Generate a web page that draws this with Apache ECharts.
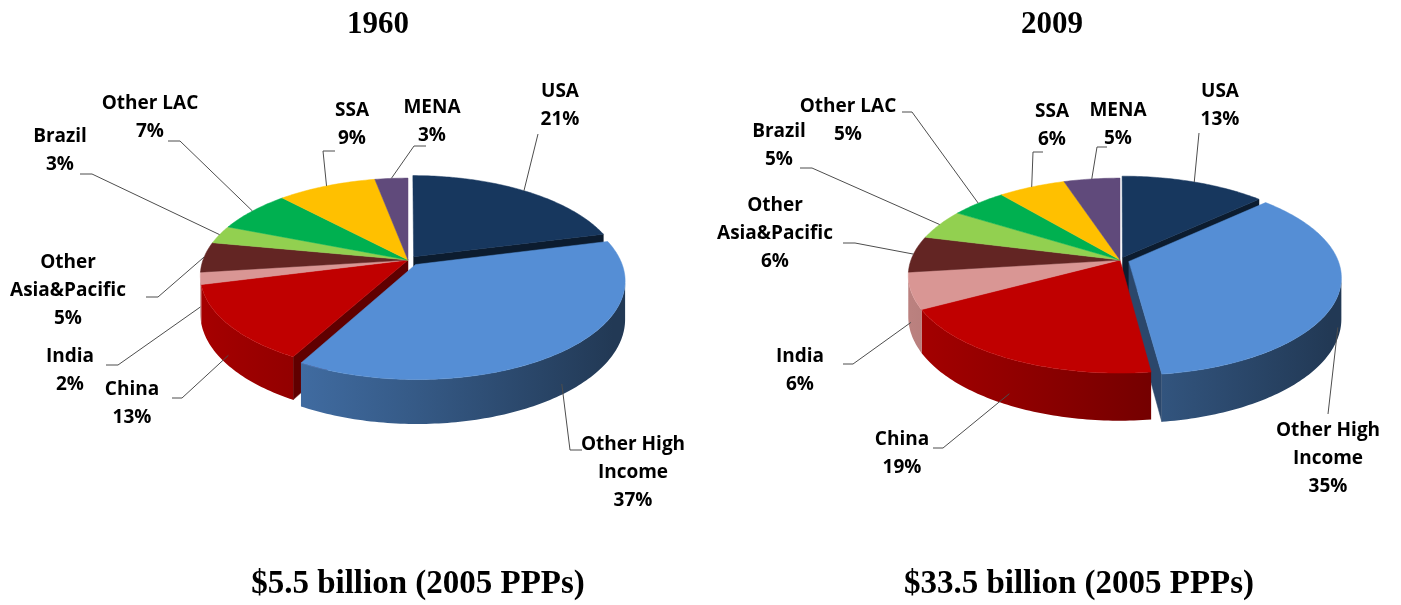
<!DOCTYPE html>
<html>
<head>
<meta charset="utf-8">
<title>Shares of world output, 1960 and 2009</title>
<script src="https://cdn.jsdelivr.net/npm/echarts@6/dist/echarts.min.js"></script>
<style>
  html, body { margin: 0; padding: 0; background: #fff; }
  #main { width: 1401px; height: 605px; }
</style>
</head>
<body>
<div id="main"></div>
<script type="text/javascript">
// slices run clockwise from 12 o'clock
var regions = ['USA', 'Other High\nIncome', 'China', 'India', 'Other\nAsia&Pacific', 'Brazil', 'Other LAC', 'SSA', 'MENA'];
var share1960 = [21, 37, 13, 2, 5, 3, 7, 9, 3];
var share2009 = [13, 35, 19, 6, 6, 5, 5, 6, 5];
var sliceColors = ['#17375E', '#558ED5', '#C00000', '#D99694', '#632523', '#92D050', '#00B050', '#FFC000', '#604A7B'];

// how far each slice is pulled out (fraction of radius)
var explode1960 = [0.045, 0.06, 0, 0, 0, 0, 0, 0, 0];
var explode2009 = [0.03, 0.045, 0, 0, 0, 0, 0, 0, 0];

// label placement relative to the pie centre: [textX, textY, leaderX, leaderY, elbow]
var labels1960 = [
    [152, -154, 130, -126, 0],
    [225, 213, 174, 190, -12],
    [-276, 144, -236, 138, 10],
    [-338, 111, -302, 105, 12],
    [-340, 31, -262, 37, 12],
    [-348, -109, -328, -86, 12],
    [-258, -142, -240, -119, 12],
    [-56, -135, -73, -109, -12],
    [24, -138, 18, -114, -12]
];
var labels2009 = [
    [100, -154, 79, -127, 0],
    [208, 199, 208, 154, 0],
    [-218, 194, -187, 188, 10],
    [-320, 111, -277, 104, 10],
    [-345, -26, -277, -17, 12],
    [-341, -114, -320, -92, 12],
    [-272, -139, -218, -148, 10],
    [-68, -134, -77, -108, -10],
    [-2, -135, -13, -113, -10]
];

var pie1960 = { cx: 408, cy: 260, rx: 205, ry: 95, k: 0.16, depth: 37, shares: share1960, explode: explode1960, labels: labels1960 };
var pie2009 = { cx: 1120, cy: 260, rx: 209, ry: 95, k: 0.16, depth: 40, shares: share2009, explode: explode2009, labels: labels2009 };

function shade(hex, f) {
    var n = parseInt(hex.slice(1), 16);
    var r = Math.round(((n >> 16) & 255) * f);
    var g = Math.round(((n >> 8) & 255) * f);
    var b = Math.round((n & 255) * f);
    return 'rgb(' + r + ',' + g + ',' + b + ')';
}

// simple perspective: u right, v towards viewer, h down the side wall (0..1)
function project(pie, u, v, h) {
    var s = 1 / (1 - pie.k * v);
    return [pie.cx + pie.rx * u * s, pie.cy + (pie.ry * v + pie.depth * h) * s];
}

function arcPoints(pie, ou, ov, a0, a1, h) {
    var pts = [];
    var n = Math.max(2, Math.ceil(Math.abs(a1 - a0) / (Math.PI / 180)));
    for (var j = 0; j <= n; j++) {
        var a = a0 + (a1 - a0) * j / n;
        pts.push(project(pie, ou + Math.cos(a), ov + Math.sin(a), h));
    }
    return pts;
}

function makeRenderer(pie) {
    var total = 0, before = [];
    pie.shares.forEach(function (v) { before.push(total); total += v; });
    var silhouette = Math.asin(pie.k);
    var n = pie.shares.length;

    return function (params, api) {
        var i = params.dataIndex;
        var val = api.value(0);
        var a0 = -Math.PI / 2 + 2 * Math.PI * before[i] / total;
        var a1 = a0 + 2 * Math.PI * val / total;
        var mid = (a0 + a1) / 2;
        var e = pie.explode[i];
        var ou = e * Math.cos(mid), ov = e * Math.sin(mid);
        var color = sliceColors[i];
        var children = [];

        // radial side faces, only where a neighbour is pulled apart
        var faces = [];
        if (Math.cos(a0) < 0 && pie.explode[(i + n - 1) % n] !== e) faces.push(a0);
        if (Math.cos(a1) > 0 && pie.explode[(i + 1) % n] !== e) faces.push(a1);
        faces.forEach(function (phi) {
            children.push({
                type: 'polygon',
                z2: 1,
                shape: { points: [
                    project(pie, ou, ov, 0),
                    project(pie, ou + Math.cos(phi), ov + Math.sin(phi), 0),
                    project(pie, ou + Math.cos(phi), ov + Math.sin(phi), 1),
                    project(pie, ou, ov, 1)
                ] },
                style: { fill: shade(color, 0.5), stroke: shade(color, 0.5), lineWidth: 0.5 }
            });
        });

        // outer wall on the front half
        var lo = Math.max(a0, silhouette), hi = Math.min(a1, Math.PI - silhouette);
        if (hi > lo) {
            var top = arcPoints(pie, ou, ov, lo, hi, 0);
            var bottom = arcPoints(pie, ou, ov, hi, lo, 1);
            children.push({
                type: 'polygon',
                z2: 2,
                shape: { points: top.concat(bottom) },
                style: {
                    fill: new echarts.graphic.LinearGradient(pie.cx - pie.rx, 0, pie.cx + pie.rx, 0, [
                        { offset: 0, color: shade(color, 0.86) },
                        { offset: 0.5, color: shade(color, 0.64) },
                        { offset: 1, color: shade(color, 0.4) }
                    ], true)
                }
            });
        }

        // top face
        children.push({
            type: 'polygon',
            z2: 3,
            shape: { points: [project(pie, ou, ov, 0)].concat(arcPoints(pie, ou, ov, a0, a1, 0)) },
            style: { fill: color, stroke: color, lineWidth: 0.5 }
        });

        // label and leader line
        var lab = pie.labels[i];
        var front = Math.sin(mid) > 0.05;
        var anchor = project(pie, ou + Math.cos(mid), ov + Math.sin(mid), front ? 0.75 : 0);
        var sx = pie.cx + lab[2], sy = pie.cy + lab[3];
        children.push({
            type: 'polyline',
            z2: 9,
            shape: { points: [anchor, [sx + lab[4], sy], [sx, sy]] },
            style: { stroke: '#4d4d4d', lineWidth: 1, fill: null }
        });
        children.push({
            type: 'text',
            z2: 10,
            x: pie.cx + lab[0],
            y: pie.cy + lab[1],
            style: {
                text: regions[i] + '\n' + val + '%',
                fill: '#000',
                fontFamily: 'Open Sans',
                fontWeight: 'bold',
                fontSize: 19,
                lineHeight: 28,
                align: 'center',
                verticalAlign: 'middle'
            }
        });

        return { type: 'group', children: children };
    };
}

var chart = echarts.init(document.getElementById('main'));

var serif = { fontFamily: 'Liberation Serif', fontWeight: 'bold', color: '#000' };
var option = {
    animation: false,
    title: [
        { text: '1960', left: 373, top: 4, textAlign: 'center', textStyle: Object.assign({ fontSize: 31 }, serif) },
        { text: '2009', left: 1047, top: 4, textAlign: 'center', textStyle: Object.assign({ fontSize: 31 }, serif) },
        { text: '$5.5 billion (2005 PPPs)', left: 413, top: 563, textAlign: 'center', textStyle: Object.assign({ fontSize: 33 }, serif) },
        { text: '$33.5 billion (2005 PPPs)', left: 1074, top: 563, textAlign: 'center', textStyle: Object.assign({ fontSize: 33 }, serif) }
    ],
    series: [
        { type: 'custom', name: '1960', coordinateSystem: 'none', data: share1960, renderItem: makeRenderer(pie1960) },
        { type: 'custom', name: '2009', coordinateSystem: 'none', data: share2009, renderItem: makeRenderer(pie2009) }
    ]
};

chart.setOption(option);
</script>
</body>
</html>
